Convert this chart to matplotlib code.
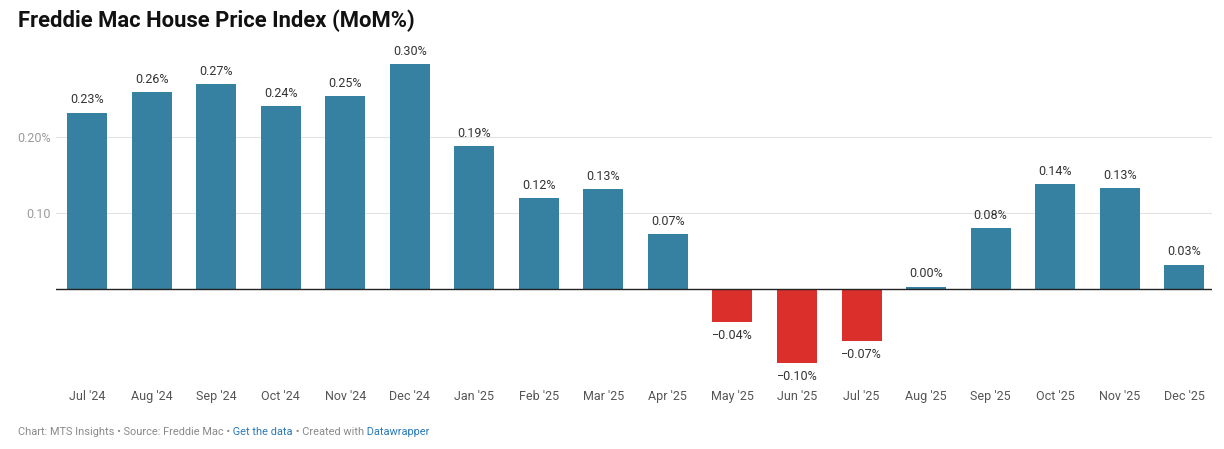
import matplotlib.pyplot as plt

plt.rcParams['font.family'] = ['Roboto', 'DejaVu Sans']

# Monthly change of the Freddie Mac house price index, in percent
months = ["Jul '24", "Aug '24", "Sep '24", "Oct '24", "Nov '24", "Dec '24",
          "Jan '25", "Feb '25", "Mar '25", "Apr '25", "May '25", "Jun '25",
          "Jul '25", "Aug '25", "Sep '25", "Oct '25", "Nov '25", "Dec '25"]
mom = [0.232, 0.259, 0.270, 0.241, 0.254, 0.296,
       0.188, 0.120, 0.131, 0.072, -0.043, -0.097,
       -0.068, 0.003, 0.080, 0.138, 0.133, 0.032]
labels = ["0.23%", "0.26%", "0.27%", "0.24%", "0.25%", "0.30%",
          "0.19%", "0.12%", "0.13%", "0.07%", "\u22120.04%", "\u22120.10%",
          "\u22120.07%", "0.00%", "0.08%", "0.14%", "0.13%", "0.03%"]
yticks = [0.10, 0.20]
yticklabels = ["0.10", "0.20%"]

BLUE = '#3680a1'
RED = '#db2f2c'

W, H = 1224, 449
fig = plt.figure(figsize=(W / 100, H / 100), dpi=100, facecolor='white')
ax = fig.add_axes([56 / W, 1 - 375 / H, (1212 - 56) / W, (375 - 45) / H])

x = range(len(mom))
colors = [BLUE if v >= 0 else RED for v in mom]
ax.bar(x, mom, width=0.62, color=colors, zorder=2)

ax.set_xlim(-0.48, len(mom) - 0.57)
ax.set_ylim((289 - 375) / 760, (289 - 45) / 760)

for i, (v, lab) in enumerate(zip(mom, labels)):
    if v >= 0:
        ax.annotate(lab, (i, v), xytext=(0, 4.5), textcoords='offset points',
                    ha='center', va='bottom', fontsize=9, color='#333333')
    else:
        ax.annotate(lab, (i, v), xytext=(0, -5), textcoords='offset points',
                    ha='center', va='top', fontsize=9, color='#333333')

ax.axhline(0, color='#222222', lw=1, zorder=3)
for t in yticks:
    ax.axhline(t, color='#e3e3e3', lw=0.8, zorder=1)

ax.set_yticks(yticks)
ax.set_yticklabels(yticklabels)
ax.tick_params(axis='y', length=0, pad=4, labelsize=9, labelcolor='#9a9a9a')
ax.set_xticks(list(x))
ax.set_xticklabels(months)
ax.tick_params(axis='x', length=0, pad=11, labelsize=9, labelcolor='#555555')
for s in ax.spines.values():
    s.set_visible(False)

fig.text(18 / W, 1 - 21 / H, "Freddie Mac House Price Index (MoM%)",
         fontsize=15.8, fontweight='bold', color='#111111', va='center', ha='left')

# footer, mixed colours
renderer = fig.canvas.get_renderer()
pieces = [("Chart: MTS Insights \u2022 Source: Freddie Mac \u2022", '#8a8a8a'),
          (" Get the data", '#2a7ab8'),
          (" \u2022 Created with", '#8a8a8a'),
          (" Datawrapper", '#2a7ab8')]
xpos = 18
for txt, col in pieces:
    t = fig.text(xpos / W, 1 - 432 / H, txt, fontsize=7.9, color=col,
                 va='center', ha='left')
    bb = t.get_window_extent(renderer=renderer)
    xpos = bb.x1

fig.savefig('out.png', dpi=100, facecolor='white')
